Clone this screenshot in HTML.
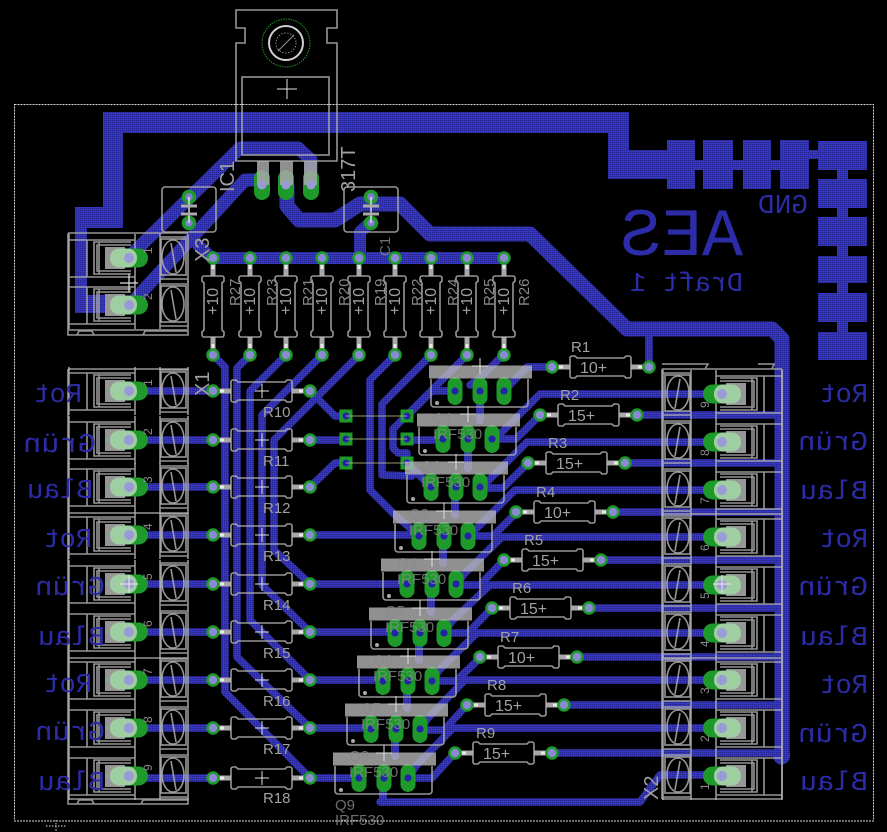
<!DOCTYPE html>
<html><head><meta charset="utf-8"><style>
html,body{margin:0;padding:0;background:#000}
svg{display:block}
.t{fill:none;stroke:url(#d);stroke-width:7.5;stroke-linejoin:round;stroke-linecap:round}
.b{fill:url(#d)}
.s{fill:none;stroke:#b0b0b0;stroke-width:1.6;stroke-opacity:.85}
.w{fill:none;stroke:#e0e0e0;stroke-width:1}
text{font-family:"Liberation Sans",sans-serif}
.l{font-size:15px;fill:#a0a0a0}
.d{font-size:15px;fill:#8a8a8a;opacity:.8}
.m{font-size:27px;fill:#2c2ca8}
.m text{font-family:"Liberation Mono",monospace}
</style></head><body>
<svg width="887" height="832" viewBox="0 0 887 832" xmlns="http://www.w3.org/2000/svg">
<defs>
<pattern id="d" width="2" height="2" patternUnits="userSpaceOnUse"><rect width="2" height="2" fill="#3636c0"/><rect width="1" height="1" fill="#22228c"/></pattern>
<g id="tb">
<path class="s" d="M-60-24V24M-42-18V19M6-24V24M31-24V24M59-24V24M-60-18H6M-60 19H6M31-21H59M31 21H59"/>
<rect class="s" x="32" y="-19" width="25" height="36"/>
<ellipse class="s" cx="44" cy="-1" rx="11" ry="17"/>
<path class="s" d="M42-15L47 14" stroke-width="2"/>
<path class="s" d="M2-16H-35V16H2M2-13H-32V13H2M-30-16V16"/>
<rect x="-24" y="-11" width="20" height="22" fill="#b0b0b0" opacity=".85"/>
<rect x="-19" y="-9.5" width="38" height="19" rx="9.5" fill="#1d9a2a"/>
<rect x="-19" y="-9.5" width="27" height="19" rx="9" fill="#c4dcc4" opacity=".78"/>
<circle r="5" fill="#9a9ad8"/>
</g>
<g id="r">
<path d="M0 0H18M79 0H97" stroke="#a8a8a8" stroke-width="5"/>
<path d="M7 0H11M86 0H90" stroke="#e8e8e8" stroke-width="3"/>
<path class="s" d="M20-11h3l2,2h47l2-2h3a2,2 0 0 1 2,2v18a2,2 0 0 1-2,2h-3l-2-2h-47l-2,2h-3a2,2 0 0 1-2-2v-18a2,2 0 0 1 2-2z"/>
<circle r="5.5" fill="#8a8ad0" stroke="#1d9a2a" stroke-width="2.5"/>
<circle cx="97" r="5.5" fill="#8a8ad0" stroke="#1d9a2a" stroke-width="2.5"/>
</g>
<g id="q">
<rect x="-7.5" y="-14" width="15" height="28" rx="7.5" fill="#1d9a2a"/><circle r="3.6" fill="#2323a8"/>
<rect x="17.5" y="-14" width="15" height="28" rx="7.5" fill="#1d9a2a"/><circle cx="25" r="3.6" fill="#2323a8"/>
<rect x="41.5" y="-14" width="15" height="28" rx="7.5" fill="#1d9a2a"/><circle cx="49" r="3.6" fill="#2323a8"/>
<rect x="-26" y="-25.5" width="103" height="13" fill="#b8b8b8" opacity=".78"/>
<path class="s" d="M-24-12V13a3 3 0 0 0 3 3H70a3 3 0 0 0 3-3V-12"/>
<circle cx="-18" cy="12" r="2" fill="#aaa"/>
<path class="w" d="M25-33V-17M17-25H33"/>
</g>
<g id="c">
<rect class="s" x="-27" y="-23" width="54" height="45" rx="3"/>
<circle cy="-13" r="5.5" fill="#8080d0" stroke="#1d9a2a" stroke-width="3.5"/>
<circle cy="13" r="5.5" fill="#8080d0" stroke="#1d9a2a" stroke-width="3.5"/>
<path d="M0-13V13" stroke="#ddd" stroke-width="1.5"/>
<path d="M-8-4H8M-8 4H8" stroke="#aaa" stroke-width="3"/>
</g>
<g id="sm"><rect x="-6.5" y="-6.5" width="13" height="13" fill="#1d9a2a"/><circle r="3.5" fill="#2323a8"/></g>
</defs>
<rect width="887" height="832" fill="#000"/>

<!-- copper pours -->
<path class="b" d="M103 112H629V150H667V140H695V160H703V140H733V160H743V140H771V160H780V140H809V150H818V141H867V170H848V179H867V208H848V217H867V246H848V256H867V283H848V293H867V322H848V332H867V360H818V332H837V322H818V293H837V283H818V256H837V246H818V217H837V208H818V179H837V170H818V159H809V189H780V170H771V189H743V170H733V189H703V170H695V189H667V179H608V133H123V228H87V295H105V313H75V207H103Z"/>

<!-- power traces -->
<polyline class="t" style="stroke-width:13" points="128,258 240,148 298,148 311,160 311,185"/>
<polyline class="t" style="stroke-width:13" points="128,307 245,180 262,180 262,185"/>
<polyline class="t" style="stroke-width:15;stroke-linecap:butt" points="287,185 287,206 299,220 335,220 360,204 400,204 430,234 530,234 627,329 772,329 782,339 782,753"/>
<path d="M773 753h17v3a8.500 8.500 0 0 1-17 0z" class="b"/>
<polyline class="t" style="stroke-width:12" points="371,222 360,232 360,258"/>
<polyline class="t" style="stroke-width:12" points="198,245 212,258 504,258"/>
<polyline class="t" points="649,367 649,335"/>

<!-- bottom-pad fan-out -->
<polyline class="t" points="213,355 225,367 225,692 310,778"/>
<polyline class="t" points="250,355 237,368 237,657 310,728"/>
<polyline class="t" points="286,355 250,391 250,620 310,680"/>
<polyline class="t" points="322,355 262,415 262,585 310,632"/>
<polyline class="t" points="359,355 274,440 274,550 310,584"/>
<polyline class="t" points="395,355 370,380 370,490 393,513 419,536"/>
<polyline class="t" points="431,355 382,404 382,475 412,476"/>
<polyline class="t" points="467,355 393,429 393,448 398,453 407,453 407,463"/>
<polyline class="t" points="503,355 480,378 470,385"/>

<!-- X1 row traces -->
<path class="t" d="M129 391H213M129 440H213M129 487H213M129 535H213M129 584H213M129 632H213M129 680H213M129 728H213M129 776L140 778H213"/>
<path class="t" d="M310 535H419M310 584H407M310 632H395M310 680H383M310 728H371M310 778H359"/>
<polyline class="t" points="310,391 335,416 346,416"/>
<path class="t" d="M310 440H346"/>
<polyline class="t" points="310,487 335,463 346,463"/>
<polyline class="t" points="407,416 432,391 455,391"/>
<path class="t" d="M407 440H443"/>
<polyline class="t" points="407,463 431,487"/>

<!-- X2 rows -->
<polyline class="t" points="492,439 500,434 540,394 722,394"/>
<polyline class="t" points="480,488 489,480 527,442 722,442"/>
<polyline class="t" points="468,536 477,528 515,490 722,490"/>
<polyline class="t" points="456,585 465,573 502,537 722,537"/>
<polyline class="t" points="444,633 452,621 490,585 722,585"/>
<polyline class="t" points="432,681 440,669 477,633 722,633"/>
<polyline class="t" points="420,730 428,718 465,680 722,680"/>
<polyline class="t" points="408,778 416,766 453,728 722,728"/>
<polyline class="t" points="380,802 640,802 660,775 722,775"/>
<path class="t" style="stroke-width:8" d="M383 778V802"/>
<path class="t" style="stroke-width:8" d="M480 391V420M468 439V468M455 488V515M443 536V563M431 585V612M419 633V660M407 681V708M395 730V756"/>

<!-- right resistor to FET -->
<polyline class="t" points="552,367 527,367 504,391"/>
<polyline class="t" points="540,415 516,439 492,439"/>
<polyline class="t" points="528,463 503,488 480,488"/>
<polyline class="t" points="517,512 493,536 468,536"/>
<polyline class="t" points="504,560 480,585 456,585"/>
<polyline class="t" points="492,608 468,633 444,633"/>
<polyline class="t" points="481,657 456,681 432,681"/>
<polyline class="t" points="467,705 444,730 420,730"/>
<polyline class="t" points="455,753 432,778 408,778"/>
<path class="t" d="M638 415H780M625 463H780M613 512H780M602 560H780M589 608H780M576 657H780M564 705H780M552 753H780"/>

<!-- vertical resistors -->
<use href="#r" transform="translate(213,355) rotate(-90)"/>
<use href="#r" transform="translate(250,355) rotate(-90)"/>
<use href="#r" transform="translate(286,355) rotate(-90)"/>
<use href="#r" transform="translate(322,355) rotate(-90)"/>
<use href="#r" transform="translate(359,355) rotate(-90)"/>
<use href="#r" transform="translate(395,355) rotate(-90)"/>
<use href="#r" transform="translate(431,355) rotate(-90)"/>
<use href="#r" transform="translate(467,355) rotate(-90)"/>
<use href="#r" transform="translate(504,355) rotate(-90)"/>
<g class="l" style="font-size:16px">
<text transform="translate(218,315) rotate(-90)">+10</text>
<text transform="translate(255,315) rotate(-90)">+10</text>
<text transform="translate(291,315) rotate(-90)">+10</text>
<text transform="translate(327,315) rotate(-90)">+10</text>
<text transform="translate(364,315) rotate(-90)">+10</text>
<text transform="translate(400,315) rotate(-90)">+10</text>
<text transform="translate(436,315) rotate(-90)">+10</text>
<text transform="translate(472,315) rotate(-90)">+10</text>
<text transform="translate(509,315) rotate(-90)">+10</text>
</g>
<g class="d" style="opacity:1">
<text transform="translate(240,306) rotate(-90)">R27</text>
<text transform="translate(277,306) rotate(-90)">R23</text>
<text transform="translate(313,306) rotate(-90)">R21</text>
<text transform="translate(349,306) rotate(-90)">R20</text>
<text transform="translate(385,306) rotate(-90)">R19</text>
<text transform="translate(422,306) rotate(-90)">R22</text>
<text transform="translate(458,306) rotate(-90)">R24</text>
<text transform="translate(494,306) rotate(-90)">R25</text>
<text transform="translate(529,306) rotate(-90)">R26</text>
</g>

<!-- left resistors -->
<use href="#r" x="213" y="391"/><use href="#r" x="213" y="440"/><use href="#r" x="213" y="487"/>
<use href="#r" x="213" y="535"/><use href="#r" x="213" y="584"/><use href="#r" x="213" y="632"/>
<use href="#r" x="213" y="680"/><use href="#r" x="213" y="728"/><use href="#r" x="213" y="778"/>
<path class="w" d="M255 391H269M262 384V398M255 440H269M262 433V447M255 487H269M262 480V494M255 535H269M262 528V542M255 584H269M262 577V591M255 632H269M262 625V639M255 680H269M262 673V687M255 728H269M262 721V735M255 778H269M262 771V785"/>
<g class="l">
<text x="263" y="417">R10</text><text x="263" y="466">R11</text><text x="263" y="513">R12</text>
<text x="263" y="561">R13</text><text x="263" y="610">R14</text><text x="263" y="658">R15</text>
<text x="263" y="706">R16</text><text x="263" y="754">R17</text><text x="263" y="803">R18</text>
</g>

<!-- SMD pads -->
<use href="#sm" x="346" y="416"/><use href="#sm" x="346" y="439"/><use href="#sm" x="346" y="463"/>
<use href="#sm" x="407" y="416"/><use href="#sm" x="407" y="439"/><use href="#sm" x="407" y="463"/>
<path d="M346 416H407M346 439H407M346 463H407" stroke="#c8c890" stroke-width=".8"/>

<!-- FETs -->
<use href="#q" x="455" y="391"/><use href="#q" x="443" y="439"/><use href="#q" x="431" y="487"/>
<use href="#q" x="419" y="536"/><use href="#q" x="407" y="584"/><use href="#q" x="395" y="633"/>
<use href="#q" x="383" y="681"/><use href="#q" x="371" y="729"/><use href="#q" x="359" y="778"/>
<g class="d">
<text x="433" y="423">Q1</text><text x="433" y="439">IRF530</text>
<text x="421" y="471">Q2</text><text x="421" y="487">IRF530</text>
<text x="409" y="519">Q3</text><text x="409" y="535">IRF530</text>
<text x="397" y="568">Q4</text><text x="397" y="584">IRF530</text>
<text x="385" y="616">Q5</text><text x="385" y="632">IRF530</text>
<text x="373" y="665">Q6</text><text x="373" y="681">IRF530</text>
<text x="361" y="713">Q7</text><text x="361" y="729">IRF530</text>
<text x="349" y="761">Q8</text><text x="349" y="777">IRF530</text>
<text x="335" y="810" style="opacity:1">Q9</text><text x="335" y="825" style="opacity:1">IRF530</text>
</g>

<!-- right resistors -->
<use href="#r" x="552" y="367"/><use href="#r" x="540" y="415"/><use href="#r" x="528" y="463"/>
<use href="#r" x="516" y="512"/><use href="#r" x="504" y="560"/><use href="#r" x="492" y="608"/>
<use href="#r" x="480" y="657"/><use href="#r" x="467" y="705"/><use href="#r" x="455" y="753"/>
<g class="l" style="font-size:16px">
<text x="580" y="373">10+</text><text x="568" y="421">15+</text><text x="556" y="469">15+</text>
<text x="544" y="518">10+</text><text x="532" y="566">15+</text><text x="520" y="614">15+</text>
<text x="508" y="663">10+</text><text x="495" y="711">15+</text><text x="483" y="759">15+</text>
</g>
<g class="l">
<text x="571" y="352">R1</text><text x="560" y="400">R2</text><text x="548" y="448">R3</text>
<text x="536" y="497">R4</text><text x="524" y="545">R5</text><text x="512" y="593">R6</text>
<text x="500" y="642">R7</text><text x="487" y="690">R8</text><text x="476" y="738">R9</text>
</g>

<!-- X3 -->
<use href="#tb" x="129" y="258"/><use href="#tb" x="129" y="305"/>
<path class="s" d="M68 233H188M68 330H188V335H68ZM68 233V330M77 335l2-4H92l2 4M143 335l2-4H188"/>
<g class="d" style="opacity:1;font-size:12px">
<text transform="translate(152,254) rotate(-90)">1</text><text transform="translate(152,300) rotate(-90)">2</text>
</g>
<text class="l" transform="translate(209,262) rotate(-90)" style="font-size:20px">X3</text>

<!-- X1 -->
<use href="#tb" x="129" y="391"/><use href="#tb" x="129" y="440"/><use href="#tb" x="129" y="487"/>
<use href="#tb" x="129" y="535"/><use href="#tb" x="129" y="584"/><use href="#tb" x="129" y="632"/>
<use href="#tb" x="129" y="680"/><use href="#tb" x="129" y="728"/><use href="#tb" x="129" y="776"/>
<path class="s" d="M68 369H188M68 513H188M68 658H188M68 799H188V804H68ZM68 369V799M77 804l2-4H92l2 4M141 804l2-4H188"/>
<g class="d" style="opacity:1;font-size:12px">
<text transform="translate(152,386) rotate(-90)">1</text><text transform="translate(152,435) rotate(-90)">2</text><text transform="translate(152,483) rotate(-90)">3</text>
<text transform="translate(152,530) rotate(-90)">4</text><text transform="translate(152,580) rotate(-90)">5</text><text transform="translate(152,627) rotate(-90)">6</text>
<text transform="translate(152,675) rotate(-90)">7</text><text transform="translate(152,723) rotate(-90)">8</text><text transform="translate(152,771) rotate(-90)">9</text>
</g>
<text class="l" transform="translate(209,396) rotate(-90)" style="font-size:20px">X1</text>

<!-- X2 -->
<use href="#tb" transform="translate(722,394) scale(-1,1)"/><use href="#tb" transform="translate(722,442) scale(-1,1)"/>
<use href="#tb" transform="translate(722,490) scale(-1,1)"/><use href="#tb" transform="translate(722,537) scale(-1,1)"/>
<use href="#tb" transform="translate(722,585) scale(-1,1)"/><use href="#tb" transform="translate(722,633) scale(-1,1)"/>
<use href="#tb" transform="translate(722,680) scale(-1,1)"/><use href="#tb" transform="translate(722,728) scale(-1,1)"/>
<use href="#tb" transform="translate(722,776) scale(-1,1)"/>
<path class="s" d="M662 369H782M662 514H782M662 658H782M662 799H782M662 369V799M782 369V799M662 364l3 0H708l-3 5M758 364H774l-2 5"/>
<g class="d" style="opacity:1;font-size:12px">
<text transform="translate(709,408) rotate(-90)">9</text><text transform="translate(709,456) rotate(-90)">8</text><text transform="translate(709,504) rotate(-90)">7</text>
<text transform="translate(709,551) rotate(-90)">6</text><text transform="translate(709,599) rotate(-90)">5</text><text transform="translate(709,647) rotate(-90)">4</text>
<text transform="translate(709,694) rotate(-90)">3</text><text transform="translate(709,742) rotate(-90)">2</text><text transform="translate(709,790) rotate(-90)">1</text>
</g>
<text class="l" transform="translate(658,800) rotate(-90)" style="font-size:20px">X2</text>

<!-- caps -->
<use href="#c" x="189" y="210"/><use href="#c" x="371" y="210"/>
<text class="d" transform="translate(390,256) rotate(-90)">C1</text>

<!-- IC -->
<rect x="254" y="170" width="16" height="30" rx="8" fill="#1d9a2a"/><rect x="278" y="170" width="16" height="30" rx="8" fill="#1d9a2a"/><rect x="303" y="170" width="16" height="30" rx="8" fill="#1d9a2a"/>
<rect x="257" y="161" width="12" height="24" fill="#a8a8a8" opacity=".85"/><rect x="280" y="161" width="13" height="24" fill="#a8a8a8" opacity=".85"/><rect x="304" y="161" width="13" height="24" fill="#a8a8a8" opacity=".85"/>
<circle cx="262" cy="185" r="4.500" fill="#9a9ad8"/><circle cx="286" cy="185" r="4.500" fill="#9a9ad8"/><circle cx="311" cy="185" r="4.500" fill="#9a9ad8"/>
<path class="s" d="M236 10H337V28H327V43H337V161H236V43H245V28H236Z"/>
<rect class="s" x="242" y="77" width="87" height="78"/>
<path class="w" d="M277 89H297M287 79V99"/>
<circle cx="286" cy="43" r="24" fill="none" stroke="#1d9a2a" stroke-dasharray="1.500 1"/>
<circle cx="286" cy="43" r="17" fill="none" stroke="#d0d0d0" stroke-width="2"/>
<circle cx="286" cy="43" r="10" fill="none" stroke="#888" stroke-dasharray="1.500 1.500"/>
<path d="M278 51L294 35" stroke="#999"/>
<text class="l" transform="translate(234,192) rotate(-90)" style="font-size:20px">IC1</text>
<text class="l" transform="translate(355,192) rotate(-90)" style="font-size:20px">317T</text>

<!-- board -->
<rect x="14.500" y="104.500" width="859" height="716.500" fill="none" stroke="#d8d8d8" stroke-dasharray="2 1"/>
<path d="M46 826H66M56 820V832" stroke="#ddd" stroke-dasharray="1.500 1.500"/>
<path class="w" d="M120 584H138M129 575V593M713 584H731M722 575V593M120 283H138M129 274V292" style="stroke-width:1.200"/>

<!-- bottom-layer mirrored text -->
<g class="m">
<text transform="translate(82,402) scale(-1,1)">Rot</text>
<text transform="translate(96,452) scale(-1,1)" textLength="73" lengthAdjust="spacingAndGlyphs">Grün</text>
<text transform="translate(93,498) scale(-1,1)" textLength="66" lengthAdjust="spacingAndGlyphs">Blau</text>
<text transform="translate(92,547) scale(-1,1)">Rot</text>
<text transform="translate(105,595) scale(-1,1)" textLength="70" lengthAdjust="spacingAndGlyphs">Grün</text>
<text transform="translate(105,645) scale(-1,1)" textLength="67" lengthAdjust="spacingAndGlyphs">Blau</text>
<text transform="translate(92,692) scale(-1,1)">Rot</text>
<text transform="translate(105,740) scale(-1,1)" textLength="70" lengthAdjust="spacingAndGlyphs">Grün</text>
<text transform="translate(105,790) scale(-1,1)" textLength="67" lengthAdjust="spacingAndGlyphs">Blau</text>
<text transform="translate(868,402) scale(-1,1)">Rot</text>
<text transform="translate(868,450) scale(-1,1)" textLength="70" lengthAdjust="spacingAndGlyphs">Grün</text>
<text transform="translate(868,499) scale(-1,1)" textLength="68" lengthAdjust="spacingAndGlyphs">Blau</text>
<text transform="translate(868,547) scale(-1,1)">Rot</text>
<text transform="translate(868,595) scale(-1,1)" textLength="70" lengthAdjust="spacingAndGlyphs">Grün</text>
<text transform="translate(868,645) scale(-1,1)" textLength="68" lengthAdjust="spacingAndGlyphs">Blau</text>
<text transform="translate(868,693) scale(-1,1)">Rot</text>
<text transform="translate(868,742) scale(-1,1)" textLength="70" lengthAdjust="spacingAndGlyphs">Grün</text>
<text transform="translate(868,790) scale(-1,1)" textLength="68" lengthAdjust="spacingAndGlyphs">Blau</text>
<text transform="translate(808,213) scale(-1,1)" textLength="50" lengthAdjust="spacingAndGlyphs">GND</text>
<text transform="translate(743,291) scale(-1,1)" textLength="113" lengthAdjust="spacingAndGlyphs">Draft 1</text>
<text transform="translate(743,255) scale(-1,1)" textLength="123" lengthAdjust="spacingAndGlyphs" style="font-size:68px">AES</text>
</g>
</svg>
</body></html>
